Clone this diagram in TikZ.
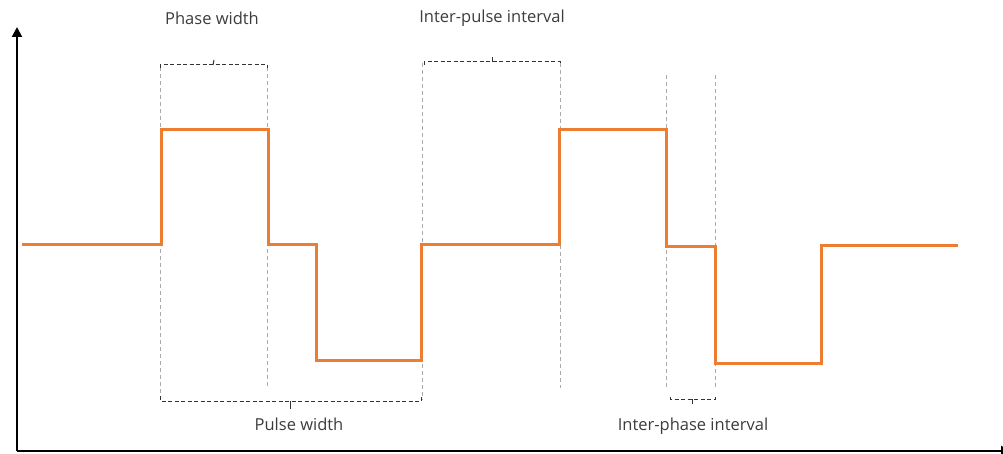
\documentclass[tikz,border=0pt]{standalone}
\usepackage{fontspec}
\setmainfont{Open Sans}
\usetikzlibrary{arrows.meta}
\definecolor{wave}{RGB}{237,125,49}
\definecolor{guide}{RGB}{170,170,170}
\definecolor{labeltext}{RGB}{60,60,60}
\tikzset{
  axis/.style={line width=2pt,black},
  wavepath/.style={line width=3pt,wave,line join=miter},
  guideline/.style={guide,line width=0.8pt,dash pattern=on 4pt off 3pt},
  bracket/.style={black!80,line width=1pt,dash pattern=on 4pt off 2.5pt},
  lbl/.style={font=\fontsize{16.5}{19}\selectfont,text=labeltext,inner sep=0pt}
}
\begin{document}
\begin{tikzpicture}[x=1pt,y=-1pt]
\useasboundingbox (0,0) rectangle (1003,454);
% axes
\coordinate (origin) at (17,451);
\coordinate (ytop) at (17,27);
\coordinate (xend) at (1011,451);
\draw[axis,-{Triangle[width=10pt,length=10pt]}] (origin) -- (ytop);
\draw[axis,-{Triangle[width=10pt,length=10pt]}] (origin) -- (xend);
% guide lines
\draw[guideline] (160,67) -- (160,397);
\draw[guideline] (267,67) -- (267,388);
\draw[guideline] (422,63) -- (422,400);
\draw[guideline] (560,63) -- (560,388);
\draw[guideline] (666,75) -- (666,388);
\draw[guideline] (715,75) -- (715,388);
% waveform
\draw[wavepath] (22,245) -- (161,245) -- (161,130) -- (268,130) -- (268,245)
  -- (316,245) -- (316,360) -- (421,360) -- (421,245) -- (559,245) -- (559,130)
  -- (666,130) -- (666,247) -- (715,247) -- (715,363) -- (821,363) -- (821,246) -- (958,246);
% brackets
\draw[bracket] (160,68) -- (160,65) -- (267,65) -- (267,68);
\draw[bracket,solid] (213,65) -- (214,60);
\draw[bracket] (424,65) -- (424,62) -- (560,62) -- (560,65);
\draw[bracket,solid] (492,62) -- (492,57);
\draw[bracket] (160,396) -- (160,401) -- (421,401) -- (421,396);
\draw[bracket,solid] (290,401) -- (290,409);
\draw[bracket] (670,397) -- (670,399) -- (715,399) -- (715,396);
\draw[bracket,solid] (692,399) -- (692,404);
% labels
\node[lbl] (phase) at (212,18) {Phase width};
\node[lbl] (interpulse) at (492,18) {Inter-pulse interval};
\node[lbl] (pulse) at (299,424) {Pulse width};
\node[lbl] (interphase) at (693,426) {Inter-phase interval};
\end{tikzpicture}
\end{document}
